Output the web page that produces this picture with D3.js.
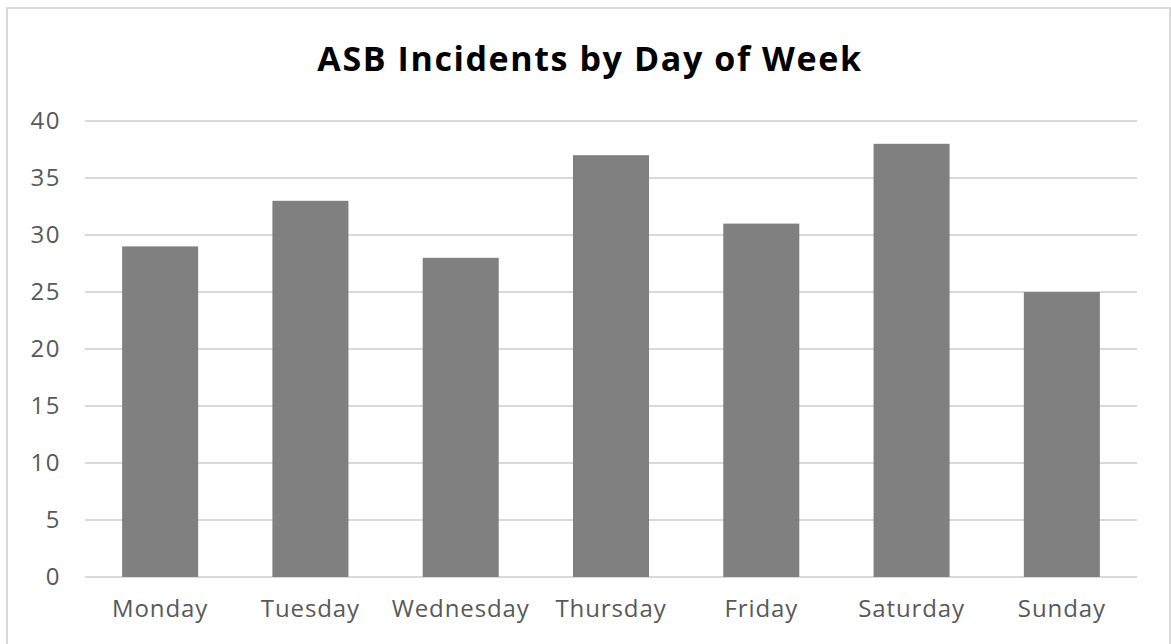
<!DOCTYPE html>
<html>
<head>
<meta charset="utf-8">
<script src="https://d3js.org/d3.v7.min.js"></script>
<style>
  body { margin: 0; background: #fff; }
  svg { display: block; }
  .tick text { font-family: "Open Sans", sans-serif; fill: #595959; }
</style>
</head>
<body>
<svg width="1171" height="644"></svg>
<script>
// chart data
const days = ["Monday", "Tuesday", "Wednesday", "Thursday", "Friday", "Saturday", "Sunday"]
const incidents = [29, 33, 28, 37, 31, 38, 25]
const yTicks = [0, 5, 10, 15, 20, 25, 30, 35, 40]

const svg = d3.select("svg")
let margins = {top: 121, bottom: 67, left: 85, right: 34}
const W = 1171, H = 644

// outer border
svg.append("rect")
    .attr("x", 7).attr("y", 8)
    .attr("width", 1163).attr("height", 645)
    .attr("fill", "none")
    .attr("stroke", "#d9d9d9")
    .attr("stroke-width", 2)

svg.append("text")
    .attr("x", 590).attr("y", 71)
    .attr("text-anchor", "middle")
    .style("font-family", "Open Sans, sans-serif")
    .style("font-weight", "bold")
    .style("font-size", "34px")
    .style("letter-spacing", "1.6px")
    .style("fill", "#000")
    .text("ASB Incidents by Day of Week")

let xScale = d3.scaleBand()
    .domain(days)
    .range([margins.left, W - margins.right])
    .paddingInner(0.494)
    .paddingOuter(0.247)

let yScale = d3.scaleLinear()
    .domain([0, 40])
    .range([H - margins.bottom, margins.top])

// gridlines
svg.append("g")
    .selectAll("line")
    .data(yTicks)
    .enter()
    .append("line")
    .attr("x1", margins.left)
    .attr("x2", W - margins.right)
    .attr("y1", d => yScale(d))
    .attr("y2", d => yScale(d))
    .attr("stroke", "#d9d9d9")
    .attr("stroke-width", 2)

svg.append("g")
    .selectAll("rect")
    .data(incidents)
    .enter()
    .append("rect")
    .attr("x", (d, i) => xScale(days[i]))
    .attr("y", d => yScale(d))
    .attr("width", xScale.bandwidth())
    .attr("height", d => yScale(0) - yScale(d))
    .attr("fill", "#808080")

let yAxis = svg.append("g")
    .attr("transform", "translate(" + margins.left + ",0)")
    .call(d3.axisLeft(yScale).tickValues(yTicks).tickSize(0).tickPadding(24))
yAxis.select(".domain").remove()
yAxis.selectAll("text").style("font-size", "24px").style("letter-spacing", "1.5px")

let xAxis = svg.append("g")
    .attr("transform", "translate(0," + yScale(0) + ")")
    .call(d3.axisBottom(xScale).tickSize(0).tickPadding(23))
xAxis.select(".domain").remove()
xAxis.selectAll("text").style("font-size", "24px").style("letter-spacing", "0.9px")
</script>
</body>
</html>
